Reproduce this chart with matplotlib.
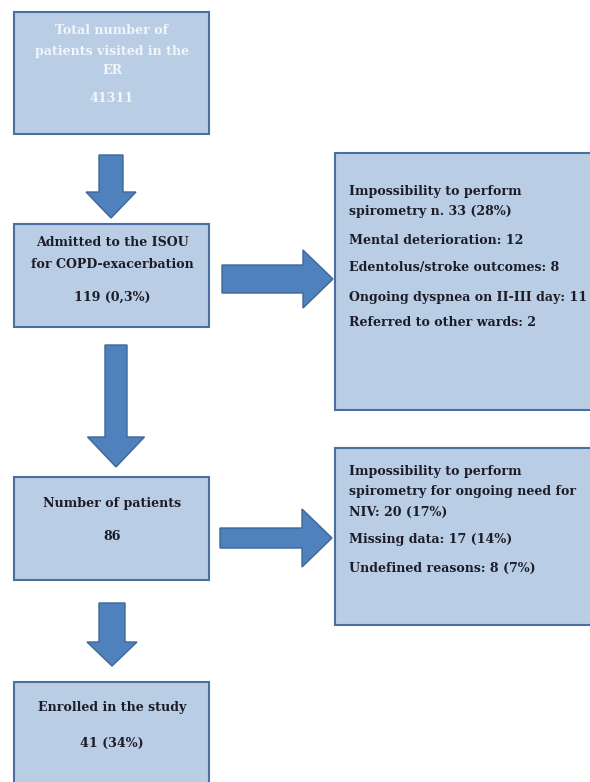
import matplotlib.pyplot as plt
from matplotlib.patches import Rectangle, FancyArrow

# box texts
top_box = ["Total number of", "patients visited in the", "ER", "41311"]
admitted_box = ["Admitted to the ISOU", "for COPD-exacerbation", "119 (0,3%)"]
patients_box = ["Number of patients", "86"]
enrolled_box = ["Enrolled in the study", "41 (34%)"]
excluded_1 = ["Impossibility to perform", "spirometry n. 33 (28%)",
              "Mental deterioration: 12", "Edentolus/stroke outcomes: 8",
              "Ongoing dyspnea on II-III day: 11", "Referred to other wards: 2"]
excluded_2 = ["Impossibility to perform", "spirometry for ongoing need for",
              "NIV: 20 (17%)", "Missing data: 17 (14%)", "Undefined reasons: 8 (7%)"]

FILL = "#b9cde5"
EDGE = "#4a6fa0"
ARROW = "#4f81bd"
ARROW_EDGE = "#3d6799"
DARK = "#1c1c28"

fig = plt.figure(figsize=(5.9, 7.82), dpi=100)
ax = fig.add_axes([0, 0, 1, 1])
ax.set_xlim(0, 590)
ax.set_ylim(782, 0)
ax.axis("off")

font = dict(family="DejaVu Serif", weight="bold", fontsize=9.1)


def box(x0, y0, x1, y1):
    ax.add_patch(Rectangle((x0, y0), x1 - x0, y1 - y0, facecolor=FILL,
                           edgecolor=EDGE, linewidth=1.5, zorder=2))


def down_arrow(x, y0, y1, w=24, hw=50, hl=26):
    ax.add_patch(FancyArrow(x, y0, 0, y1 - y0, width=w, head_width=hw,
                            head_length=hl, length_includes_head=True,
                            facecolor=ARROW, edgecolor=ARROW_EDGE, lw=1, zorder=2))


def right_arrow(y, x0, x1, w=28, hw=58, hl=30):
    ax.add_patch(FancyArrow(x0, y, x1 - x0, 0, width=w, head_width=hw,
                            head_length=hl, length_includes_head=True,
                            facecolor=ARROW, edgecolor=ARROW_EDGE, lw=1, zorder=2))


def center_lines(lines, ys, color=DARK):
    for t, y in zip(lines, ys):
        ax.text(112, y, t, ha="center", va="center", color=color, zorder=3, **font)


def left_lines(lines, ys):
    for t, y in zip(lines, ys):
        ax.text(349, y, t, ha="left", va="center", color=DARK, zorder=3, **font)


# left column
box(14, 12, 209, 134)
center_lines(top_box, [30, 51, 71, 98], color="#f2f5fa")
down_arrow(111, 155, 218)

box(14, 224, 209, 327)
center_lines(admitted_box, [243, 265, 297])
down_arrow(116, 345, 467, w=22, hw=57, hl=30)

box(14, 477, 209, 580)
center_lines(patients_box, [503, 536])
down_arrow(112, 603, 666, w=26, hw=50, hl=24)

box(14, 682, 209, 790)
center_lines(enrolled_box, [708, 743])

# right column
right_arrow(279, 222, 333)
box(335, 153, 592, 410)
left_lines(excluded_1, [192, 212, 240, 268, 297, 323])

right_arrow(538, 220, 332, w=20, hw=58, hl=30)
box(335, 448, 592, 625)
left_lines(excluded_2, [472, 492, 512, 540, 568])

fig.savefig("out.png", dpi=100)
